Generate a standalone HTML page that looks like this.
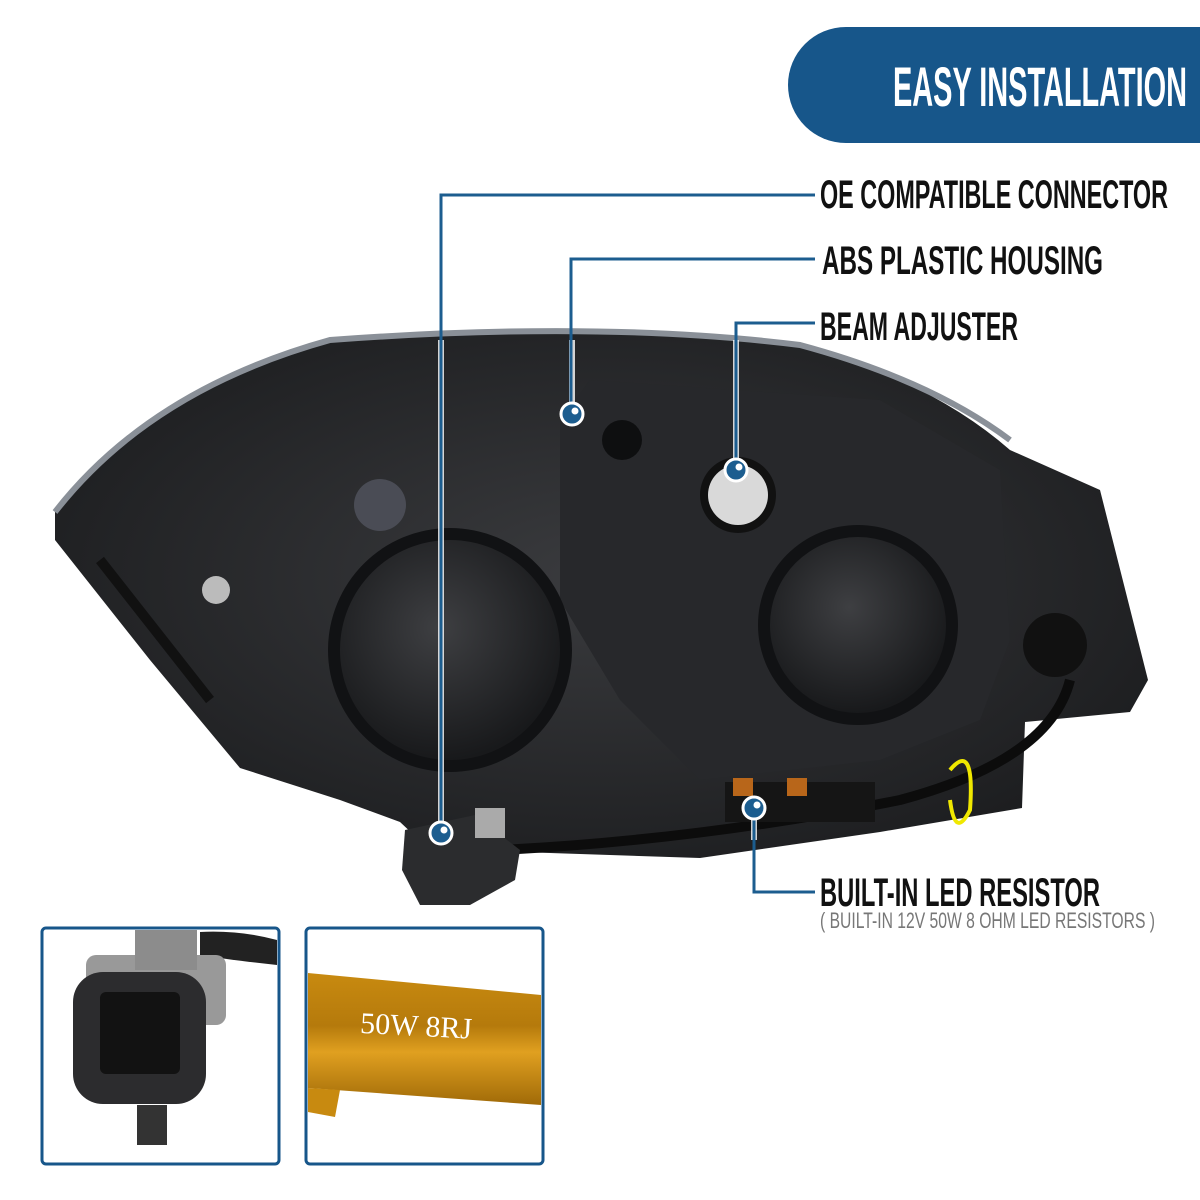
<!DOCTYPE html>
<html><head><meta charset="utf-8"><style>
html,body{margin:0;padding:0;background:#fff}
svg{display:block}
.lbl{font-family:"Liberation Sans Narrow","Liberation Sans",sans-serif;fill:#111}
</style></head><body>
<svg width="1200" height="1200" viewBox="0 0 1200 1200" xmlns="http://www.w3.org/2000/svg">
<defs>
<radialGradient id="hg" cx="0.5" cy="0.45" r="0.6"><stop offset="0" stop-color="#3a3b3e"/><stop offset="1" stop-color="#1b1c1e"/></radialGradient>
<radialGradient id="cap" cx="0.45" cy="0.4" r="0.6"><stop offset="0" stop-color="#3e3f42"/><stop offset="1" stop-color="#18191b"/></radialGradient>
<linearGradient id="gold" x1="0" y1="0" x2="0" y2="1"><stop offset="0" stop-color="#c88a10"/><stop offset="0.4" stop-color="#b57a0c"/><stop offset="0.6" stop-color="#e0a020"/><stop offset="1" stop-color="#a06a08"/></linearGradient>
</defs>
<rect width="1200" height="1200" fill="#fff"/>
<path d="M846,27 H1200 V143 H846 A58,58 0 0 1 788,85 A58,58 0 0 1 846,27 Z" fill="#17568a"/>
<text x="1187" y="106" text-anchor="end" class="lbl" font-size="56" font-weight="bold" style="fill:#fff" textLength="294" lengthAdjust="spacingAndGlyphs">EASY INSTALLATION</text>
<path d="M55,512 Q150,390 330,340 Q600,320 800,345 Q930,380 1010,450 L1100,490 L1148,680 L1130,712 L1025,722 L1022,808 L880,832 L700,858 L520,852 L462,880 L400,822 L340,800 L240,768 L150,660 L55,540 Z" fill="url(#hg)"/>
<path d="M55,512 Q150,390 330,340 Q600,320 800,345 Q930,380 1010,440" fill="none" stroke="#8a9098" stroke-width="6"/>
<path d="M590,380 L880,400 L1000,470 L1010,640 L980,720 L880,760 L700,780 L620,700 L560,600 L560,420 Z" fill="#27282b"/>
<circle cx="450" cy="650" r="122" fill="#111214"/>
<circle cx="450" cy="650" r="110" fill="url(#cap)"/>
<circle cx="858" cy="625" r="100" fill="#111214"/>
<circle cx="858" cy="625" r="88" fill="url(#cap)"/>
<circle cx="380" cy="505" r="26" fill="#4a4c55"/>
<circle cx="622" cy="440" r="20" fill="#0e0f10"/>
<circle cx="738" cy="495" r="38" fill="#111"/>
<circle cx="738" cy="495" r="30" fill="#d9d9d9"/>
<circle cx="216" cy="590" r="14" fill="#bbb"/>
<circle cx="1055" cy="645" r="32" fill="#111"/>
<path d="M210,700 L100,560" stroke="#111" stroke-width="10"/>
<path d="M500,850 Q700,840 900,800 Q1050,760 1070,680" fill="none" stroke="#0c0c0c" stroke-width="10"/>
<path d="M950,770 Q975,740 970,810 Q955,840 950,800" fill="none" stroke="#f0e800" stroke-width="4"/>
<rect x="725" y="782" width="150" height="40" fill="#151515"/>
<rect x="733" y="778" width="20" height="18" fill="#b8661a"/>
<rect x="787" y="778" width="20" height="18" fill="#b8661a"/>
<path d="M405,830 L475,815 L520,850 L515,880 L470,905 L420,905 L402,870 Z" fill="#2b2c2e"/>
<rect x="475" y="808" width="30" height="30" fill="#aaa"/>
<g fill="none" stroke-width="6" stroke="#fff" opacity="0.8">
<path d="M441,340 V833"/><path d="M572,340 V414"/><path d="M736,340 V470"/><path d="M754,808 V840"/>
</g>
<g fill="none" stroke="#1c5d8f" stroke-width="3">
<path d="M815,195 H441 V833"/>
<path d="M815,259 H571 V414"/>
<path d="M815,323 H736 V470"/>
<path d="M754,808 V892 H815"/>
</g>
<g>
<circle cx="441" cy="833" r="11" fill="#1c5d8f" stroke="#fff" stroke-width="3"/><circle cx="444" cy="830" r="3.5" fill="#fff"/>
<circle cx="572" cy="414" r="11" fill="#1c5d8f" stroke="#fff" stroke-width="3"/><circle cx="575" cy="411" r="3.5" fill="#fff"/>
<circle cx="736" cy="470" r="11" fill="#1c5d8f" stroke="#fff" stroke-width="3"/><circle cx="739" cy="467" r="3.5" fill="#fff"/>
<circle cx="754" cy="808" r="11" fill="#1c5d8f" stroke="#fff" stroke-width="3"/><circle cx="757" cy="805" r="3.5" fill="#fff"/>
</g>
<text class="lbl" x="820" y="208" font-size="40" font-weight="bold" textLength="348" lengthAdjust="spacingAndGlyphs">OE COMPATIBLE CONNECTOR</text>
<text class="lbl" x="822" y="274" font-size="40" font-weight="bold" textLength="281" lengthAdjust="spacingAndGlyphs">ABS PLASTIC HOUSING</text>
<text class="lbl" x="820" y="340" font-size="40" font-weight="bold" textLength="198" lengthAdjust="spacingAndGlyphs">BEAM ADJUSTER</text>
<text class="lbl" x="820" y="906" font-size="40" font-weight="bold" textLength="280" lengthAdjust="spacingAndGlyphs">BUILT-IN LED RESISTOR</text>
<text class="lbl" x="820" y="928" font-size="22" style="fill:#777" textLength="335" lengthAdjust="spacingAndGlyphs">( BUILT-IN 12V 50W 8 OHM LED RESISTORS )</text>
<rect x="42" y="928" width="237" height="236" rx="4" fill="#fff" stroke="#17568a" stroke-width="3"/>
<path d="M200,932 Q240,930 277,940 L277,965 Q230,960 200,955Z" fill="#222"/>
<rect x="86" y="955" width="140" height="70" rx="10" fill="#999"/>
<rect x="135" y="930" width="62" height="40" fill="#8c8c8c"/>
<rect x="73" y="972" width="133" height="132" rx="30" fill="#2c2c2e"/>
<rect x="100" y="992" width="80" height="82" rx="6" fill="#121212"/>
<rect x="137" y="1105" width="30" height="40" fill="#333"/>
<rect x="306" y="928" width="237" height="236" rx="4" fill="#fff" stroke="#17568a" stroke-width="3"/>
<path d="M308,973 L541,995 L541,1105 L308,1088 Z" fill="url(#gold)"/>
<path d="M308,1088 L340,1090 L335,1117 L308,1112 Z" fill="#c88a10"/>
<text x="360" y="1036" font-family="Liberation Serif,serif" font-size="30" fill="#fff" transform="rotate(3 420 1030)">50W  8RJ</text>
</svg>
</body></html>
